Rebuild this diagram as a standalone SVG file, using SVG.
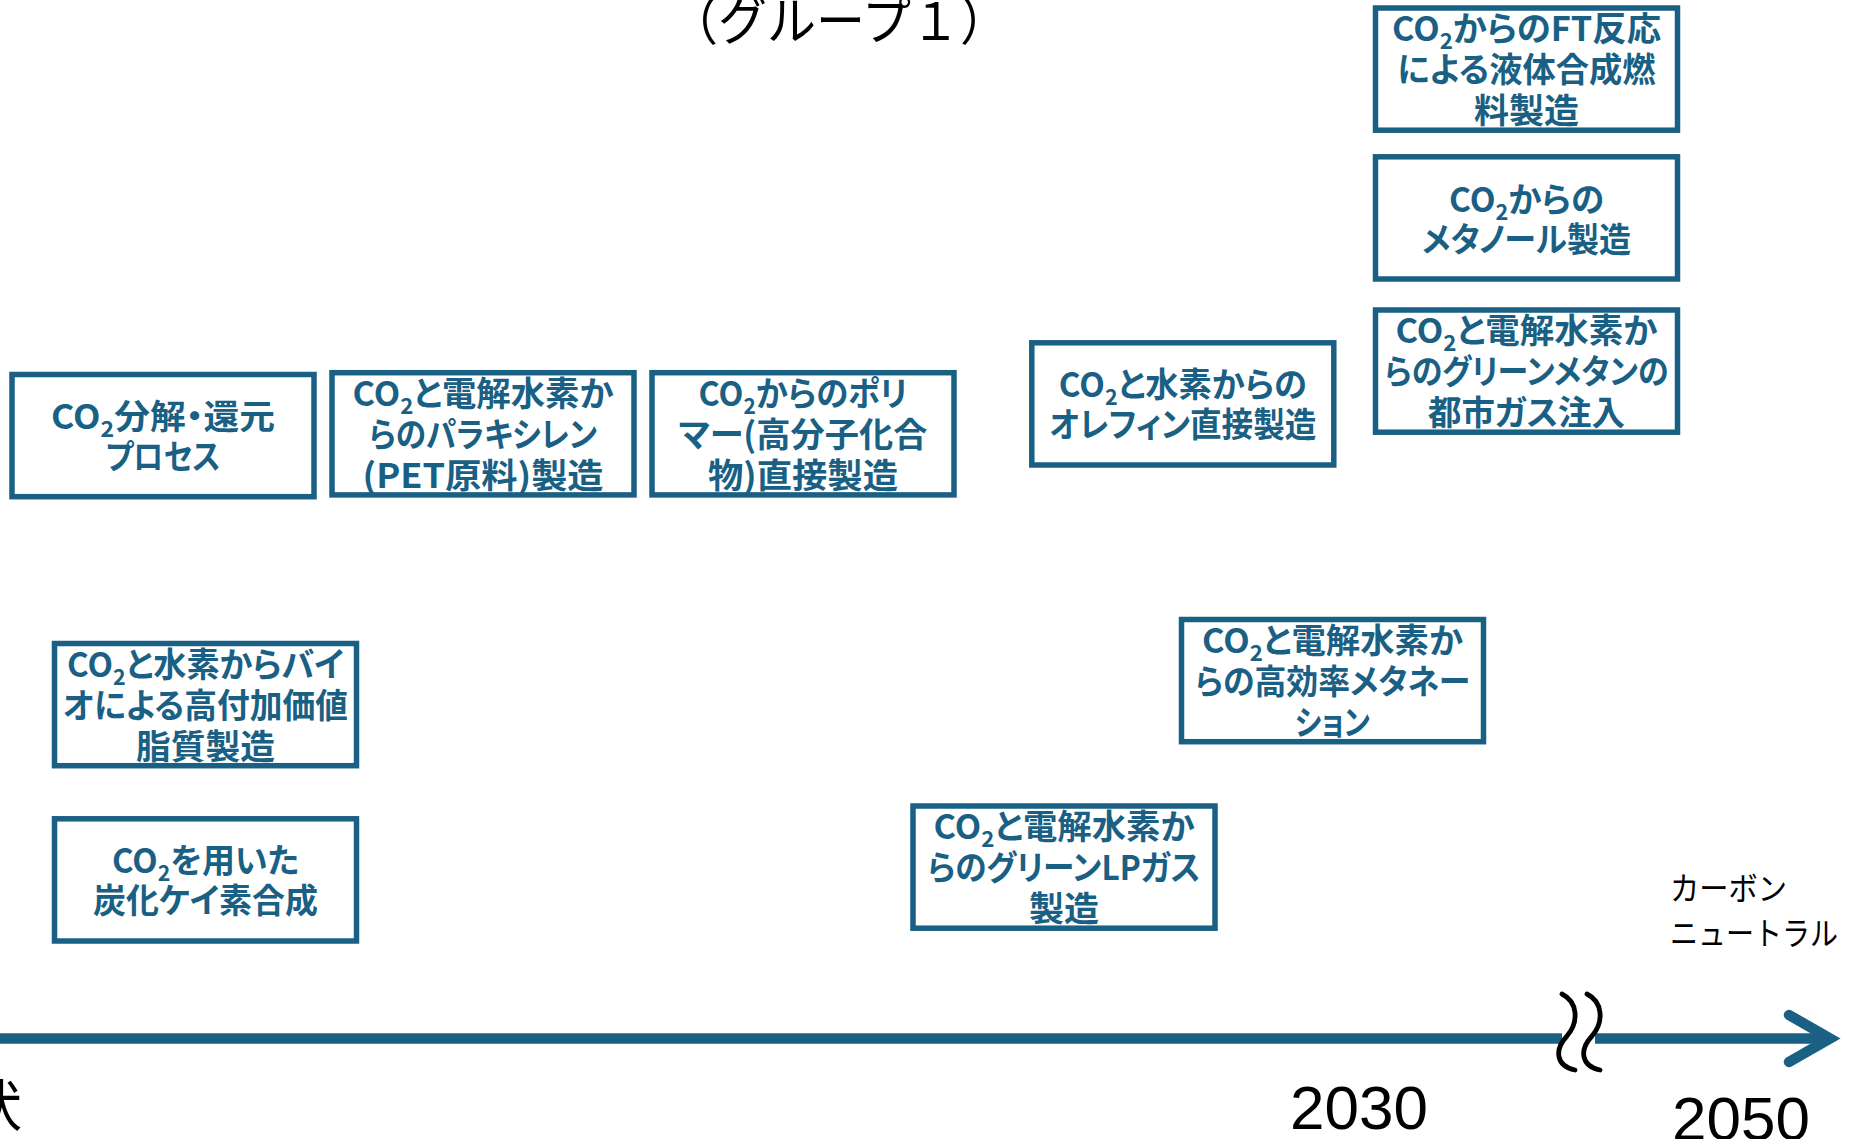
<svg xmlns="http://www.w3.org/2000/svg" width="1861" height="1139" viewBox="0 0 1861 1139">
<style>
.box{fill:#ffffff;stroke:#1a6084;stroke-width:5.5}
.t{font-family:"Noto Sans CJK JP","Noto Sans",sans-serif;font-weight:700;font-size:34px;fill:#1a6084;text-anchor:middle;font-feature-settings:"palt"}
.sub{font-size:22px}
.axis{stroke:#1a6084;stroke-width:10.5;fill:none}
.arrow{stroke:#1a6084;stroke-width:10.5;fill:none;stroke-linecap:round;stroke-linejoin:miter}
.wave{stroke:#000000;stroke-width:4.8;fill:none;stroke-linecap:round}
.lbl{font-family:"Noto Sans CJK JP","Noto Sans",sans-serif;fill:#000000}
.yr{font-family:"Liberation Sans",sans-serif;font-size:62px;fill:#000000;text-anchor:middle}
</style>
<rect x="0" y="0" width="1861" height="1139" fill="#ffffff"/>

<g id="title">
<text class="lbl" x="839" y="40" font-size="52" text-anchor="middle" textLength="340" lengthAdjust="spacingAndGlyphs">（グループ１）</text>
</g>

<g id="connectors">
<line class="axis" x1="0" y1="1038.5" x2="1562" y2="1038.5"/>
<line class="axis" x1="1595" y1="1038.5" x2="1830" y2="1038.5"/>
<path class="arrow" d="M1789,1015 L1830,1038.5 L1789,1062"/>
<path class="wave" d="M1562,994 C1578,1002 1579,1022 1567,1036 C1554,1050 1556,1066 1575,1070"/>
<path class="wave" d="M1587,994 C1603,1002 1604,1022 1592,1036 C1579,1050 1581,1066 1600,1070"/>
</g>

<g id="axis-labels">
<text class="lbl" x="22" y="1126" font-size="56" text-anchor="end">状</text>
<text class="yr" x="1359" y="1129">2030</text>
<text class="yr" x="1741" y="1140">2050</text>
<text class="lbl" x="1670" y="900" font-size="32" textLength="117" lengthAdjust="spacingAndGlyphs">カーボン</text>
<text class="lbl" x="1670" y="945" font-size="32" textLength="168" lengthAdjust="spacingAndGlyphs">ニュートラル</text>
</g>

<g id="node-co2-decomp">
<rect class="box" x="12" y="374.5" width="302" height="122.2"/>
<text class="t" x="163" y="428.6" textLength="224" lengthAdjust="spacingAndGlyphs">CO<tspan class="sub" dy="8">2</tspan><tspan dy="-8">分解・還元</tspan></text>
<text class="t" x="163" y="468.6" textLength="115" lengthAdjust="spacingAndGlyphs">プロセス</text>
</g>

<g id="node-paraxylene">
<rect class="box" x="332" y="372.7" width="302" height="122.2"/>
<text class="t" x="483" y="405.8" textLength="261" lengthAdjust="spacingAndGlyphs">CO<tspan class="sub" dy="8">2</tspan><tspan dy="-8">と電解水素か</tspan></text>
<text class="t" x="483" y="446.8" textLength="228" lengthAdjust="spacingAndGlyphs">らのパラキシレン</text>
<text class="t" x="483" y="487.8" textLength="241" lengthAdjust="spacingAndGlyphs">(PET原料)製造</text>
</g>

<g id="node-polymer">
<rect class="box" x="652" y="372.7" width="302" height="122.2"/>
<text class="t" x="803" y="405.8" textLength="209" lengthAdjust="spacingAndGlyphs">CO<tspan class="sub" dy="8">2</tspan><tspan dy="-8">からのポリ</tspan></text>
<text class="t" x="803" y="446.8" textLength="249" lengthAdjust="spacingAndGlyphs">マー(高分子化合</text>
<text class="t" x="803" y="487.8" textLength="190" lengthAdjust="spacingAndGlyphs">物)直接製造</text>
</g>

<g id="node-olefin">
<rect class="box" x="1031.8" y="342.8" width="302" height="122.2"/>
<text class="t" x="1182.8" y="396.9" textLength="248" lengthAdjust="spacingAndGlyphs">CO<tspan class="sub" dy="8">2</tspan><tspan dy="-8">と水素からの</tspan></text>
<text class="t" x="1182.8" y="436.9" textLength="267" lengthAdjust="spacingAndGlyphs">オレフィン直接製造</text>
</g>

<g id="node-ft">
<rect class="box" x="1375.5" y="8" width="302" height="122.2"/>
<text class="t" x="1526.5" y="41.1" textLength="269" lengthAdjust="spacingAndGlyphs">CO<tspan class="sub" dy="8">2</tspan><tspan dy="-8">からのFT反応</tspan></text>
<text class="t" x="1526.5" y="82.1" textLength="258" lengthAdjust="spacingAndGlyphs">による液体合成燃</text>
<text class="t" x="1526.5" y="123.1" textLength="105" lengthAdjust="spacingAndGlyphs">料製造</text>
</g>

<g id="node-methanol">
<rect class="box" x="1375.5" y="156.8" width="302" height="122.2"/>
<text class="t" x="1526.5" y="211.5" textLength="155" lengthAdjust="spacingAndGlyphs">CO<tspan class="sub" dy="8">2</tspan><tspan dy="-8">からの</tspan></text>
<text class="t" x="1526.5" y="252" textLength="209" lengthAdjust="spacingAndGlyphs">メタノール製造</text>
</g>

<g id="node-green-methane">
<rect class="box" x="1375.5" y="310" width="302" height="122.2"/>
<text class="t" x="1526.5" y="343.1" textLength="262" lengthAdjust="spacingAndGlyphs">CO<tspan class="sub" dy="8">2</tspan><tspan dy="-8">と電解水素か</tspan></text>
<text class="t" x="1526.5" y="384.1" textLength="284" lengthAdjust="spacingAndGlyphs">らのグリーンメタンの</text>
<text class="t" x="1526.5" y="425.1" textLength="197" lengthAdjust="spacingAndGlyphs">都市ガス注入</text>
</g>

<g id="node-bio-lipid">
<rect class="box" x="54.5" y="643.5" width="302" height="122.2"/>
<text class="t" x="205.5" y="676.6" textLength="277" lengthAdjust="spacingAndGlyphs">CO<tspan class="sub" dy="8">2</tspan><tspan dy="-8">と水素からバイ</tspan></text>
<text class="t" x="205.5" y="717.6" textLength="285" lengthAdjust="spacingAndGlyphs">オによる高付加価値</text>
<text class="t" x="205.5" y="758.6" textLength="139" lengthAdjust="spacingAndGlyphs">脂質製造</text>
</g>

<g id="node-sic">
<rect class="box" x="54.5" y="818.8" width="302" height="122.2"/>
<text class="t" x="205.5" y="872.9" textLength="187" lengthAdjust="spacingAndGlyphs">CO<tspan class="sub" dy="8">2</tspan><tspan dy="-8">を用いた</tspan></text>
<text class="t" x="205.5" y="912.9" textLength="225" lengthAdjust="spacingAndGlyphs">炭化ケイ素合成</text>
</g>

<g id="node-methanation">
<rect class="box" x="1181.5" y="619.5" width="302" height="122.2"/>
<text class="t" x="1332.5" y="652.6" textLength="261" lengthAdjust="spacingAndGlyphs">CO<tspan class="sub" dy="8">2</tspan><tspan dy="-8">と電解水素か</tspan></text>
<text class="t" x="1332.5" y="693.6" textLength="275" lengthAdjust="spacingAndGlyphs">らの高効率メタネー</text>
<text class="t" x="1332.5" y="734.6" textLength="75" lengthAdjust="spacingAndGlyphs">ション</text>
</g>

<g id="node-lpg">
<rect class="box" x="913" y="806" width="302" height="122.2"/>
<text class="t" x="1064" y="839.1" textLength="261" lengthAdjust="spacingAndGlyphs">CO<tspan class="sub" dy="8">2</tspan><tspan dy="-8">と電解水素か</tspan></text>
<text class="t" x="1064" y="880.1" textLength="273" lengthAdjust="spacingAndGlyphs">らのグリーンLPガス</text>
<text class="t" x="1064" y="921.1" textLength="70" lengthAdjust="spacingAndGlyphs">製造</text>
</g>
</svg>
